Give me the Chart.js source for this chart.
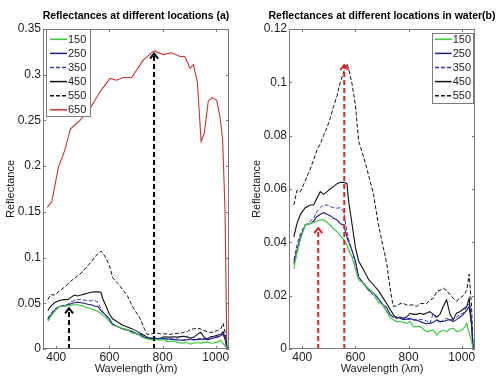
<!DOCTYPE html>
<html><head><meta charset="utf-8">
<script src="https://cdn.jsdelivr.net/npm/chart.js@4.4.1/dist/chart.umd.min.js"></script>
<style>
html,body{margin:0;padding:0;background:#fff;}
#wrap{position:relative;width:500px;height:381px;overflow:hidden;}
canvas{position:absolute;top:0;}
</style></head><body>
<div id="wrap">
<canvas id="ca" width="250" height="381" style="left:0"></canvas>
<canvas id="cb" width="250" height="381" style="left:250px"></canvas>
</div>
<script>
// ---------- data ----------
const wavelengths = [368,380,393,411,430,443,455,468,480,493,505,518,531,543,556,568,575,587,600,612,631,650,668,686,705,718,730,742,755,768,780,793,805,818,830,843,855,868,880,893,906,918,931,943,956,968,981,993,1006,1019,1028,1037,1043];
const r150 = [.030,.036,.041,.0465,.047,.0475,.048,.0484,.0484,.0475,.0465,.045,.044,.0425,.041,.039,.037,.0346,.030,.026,.0246,.0225,.021,.0175,.0165,.014,.012,.011,.0103,.0103,.010,.0096,.0103,.0084,.0084,.0084,.0075,.0065,.0068,.0071,.0053,.0065,.0071,.0065,.0075,.0078,.0065,.0068,.0075,.0096,.006,.003,0];
const r250 = [.032,.037,.042,.0465,.047,.048,.0496,.0505,.0511,.0505,.050,.049,.0484,.047,.0465,.042,.040,.037,.033,.027,.0245,.022,.021,.019,.0165,.0155,.013,.012,.012,.0115,.011,.0112,.0115,.011,.0108,.0103,.0098,.0095,.0096,.010,.0109,.0103,.0103,.0108,.011,.0103,.011,.012,.013,.0146,.016,.009,0];
const r350 = [.0334,.039,.0434,.0465,.048,.049,.0515,.053,.054,.054,.0534,.053,.0528,.053,.0515,.044,.041,.037,.032,.027,.0245,.022,.020,.018,.016,.014,.013,.012,.0115,.012,.0115,.0112,.011,.0109,.011,.011,.011,.0105,.0096,.0134,.011,.0096,.011,.0115,.011,.011,.012,.013,.0134,.0159,.017,.009,0];
const r450 = [.042,.047,.0505,.053,.054,.054,.0565,.059,.058,.059,.060,.061,.062,.0625,.0625,.062,.055,.047,.038,.033,.0296,.026,.024,.022,.019,.017,.015,.013,.0115,.012,.0115,.012,.0134,.013,.013,.0134,.013,.0135,.014,.013,.012,.013,.016,.0184,.013,.011,.0135,.014,.015,.016,.019,.010,0];
const r550 = [.054,.0595,.059,.063,.0675,.071,.0745,.077,.080,.083,.0865,.091,.095,.100,.104,.107,.105,.0995,.0915,.078,.072,.065,.058,.047,.038,.032,.023,.016,.0162,.017,.0171,.0165,.0165,.0165,.016,.017,.0171,.017,.0184,.019,.0215,.022,.0228,.022,.0203,.019,.018,.019,.020,.022,.028,.016,0];
const wavelengths650 = [366,383,408,433,452,458,489,527,564,602,627,652,684,727,768,803,834,866,884,903,916,931,945,957,972,985,1004,1016,1026,1035,1042];
const r650 = [.155,.161,.199,.218,.2396,.242,.250,.263,.281,.296,.294,.297,.297,.316,.326,.322,.324,.320,.320,.307,.311,.292,.227,.236,.271,.275,.272,.254,.229,.152,0];
const seriesLabels = ['150','250','350','450','550','650'];
const xTicks = [400,600,800,1000];
const yTicksA = [0,0.05,0.1,0.15,0.2,0.25,0.3,0.35];
const yTicksB = [0,0.02,0.04,0.06,0.08,0.1,0.12];
const arrowsA = [[448,0.0445],[768,0.323]];
const arrowsB = [[460,0.0453],[558,0.1065]];

// ---------- styles ----------
const FONT = "'Liberation Sans', Arial, sans-serif";
const styles = [
  {color:'#3ccc3c', width:1.2, dash:[]},
  {color:'#1c1c8c', width:1.1, dash:[]},
  {color:'#3535c0', width:1, dash:[4,2]},
  {color:'#111111', width:1.1, dash:[]},
  {color:'#111111', width:1, dash:[4,2]},
  {color:'#d03030', width:1.1, dash:[]}
];
const seriesA = [
  {x:wavelengths, y:r150},{x:wavelengths, y:r250},{x:wavelengths, y:r350},
  {x:wavelengths, y:r450},{x:wavelengths, y:r550},{x:wavelengths650, y:r650}
];
const seriesB = seriesA.slice(0,5);

const framePlugin = {
  id:'frame',
  afterDatasetsDraw(chart, args, o){
    const {ctx, scales:{x,y}} = chart;
    ctx.save();
    ctx.strokeStyle = o.arrowColor; ctx.lineWidth = 2; ctx.setLineDash([]);
    o.arrows.forEach(([wx,wy])=>{
      const px = x.getPixelForValue(wx), py = y.getPixelForValue(wy);
      ctx.beginPath(); ctx.moveTo(px-4,py+5); ctx.lineTo(px,py); ctx.lineTo(px+4,py+5); ctx.stroke();
    });
    ctx.restore();
  },
  afterDraw(chart, args, o){
    const {ctx, chartArea:a, scales:{x,y}} = chart;
    ctx.save();
    ctx.setLineDash([]);
    ctx.strokeStyle = '#7a7a7a'; ctx.lineWidth = 1;
    ctx.strokeRect(Math.round(a.left)+0.5, Math.round(a.top)+0.5, Math.round(a.width)-1, Math.round(a.height)-1);
    ctx.beginPath();
    xTicks.forEach(v=>{
      const p = Math.round(x.getPixelForValue(v))+0.5;
      ctx.moveTo(p,a.bottom); ctx.lineTo(p,a.bottom-3);
      ctx.moveTo(p,a.top); ctx.lineTo(p,a.top+3);
    });
    o.yTicks.forEach(v=>{
      const p = Math.round(y.getPixelForValue(v))+0.5;
      ctx.moveTo(a.left,p); ctx.lineTo(a.left+3,p);
      ctx.moveTo(a.right,p); ctx.lineTo(a.right-3,p);
    });
    ctx.stroke();
    // title
    ctx.fillStyle = '#000';
    ctx.font = "bold 10.5px " + FONT;
    ctx.textAlign = 'center'; ctx.textBaseline = 'middle';
    ctx.fillText(o.title, (a.left+a.right)/2, 16.5);
    // legend
    const L = o.legend;
    const bx = L.right ? a.right - L.dx - L.w : a.left + L.dx;
    const by = a.top + L.dy;
    ctx.fillStyle = '#fff';
    ctx.fillRect(bx, by, L.w, L.h);
    ctx.strokeStyle = '#7a7a7a';
    ctx.strokeRect(Math.round(bx)+0.5, Math.round(by)+0.5, L.w, L.h);
    ctx.font = "11px " + FONT;
    ctx.textAlign = 'left';
    o.series.forEach((s,i)=>{
      const st = styles[i];
      const ry = by + L.first + i*14.1;
      ctx.strokeStyle = st.color; ctx.lineWidth = st.width + 0.4; ctx.setLineDash(st.dash);
      ctx.beginPath(); ctx.moveTo(bx+L.l0, ry); ctx.lineTo(bx+L.l1, ry); ctx.stroke();
      ctx.fillStyle = '#222';
      ctx.fillText(seriesLabels[i], bx+L.l1+1, ry+0.5);
    });
    ctx.restore();
  }
};

function makeChart(id, series, yMax, yTicks, arrows, arrowColor, axisW, padRight, yTitlePad, title, legend){
  const datasets = [];
  arrows.forEach(([wx,wy])=>datasets.push({
    data:[{x:wx,y:0},{x:wx,y:wy}], borderColor:arrowColor, borderWidth:2,
    borderDash:[5,3], pointRadius:0, tension:0
  }));
  series.forEach((s,i)=>datasets.push({
    label:seriesLabels[i], data:s.x.map((v,k)=>({x:v,y:s.y[k]})),
    borderColor:styles[i].color, borderWidth:styles[i].width, borderDash:styles[i].dash,
    pointRadius:0, tension:0, fill:false
  }));
  return new Chart(document.getElementById(id), {
    type:'line',
    data:{datasets},
    options:{
      responsive:false, animation:false, events:[],
      layout:{padding:{left:0,right:padRight,top:29,bottom:0}},
      plugins:{legend:{display:false}, tooltip:{enabled:false},
        frame:{arrows, arrowColor, yTicks, title, legend, series}},
      scales:{
        x:{type:'linear', min:350, max:1050,
          afterBuildTicks:s=>{s.ticks = xTicks.map(v=>({value:v}));},
          afterFit:s=>{s.height = 32;},
          grid:{display:false, drawTicks:false}, border:{display:false},
          ticks:{padding:1, color:'#222', font:{size:12, family:FONT}, maxRotation:0, autoSkip:false, callback:v=>String(v)},
          title:{display:true, text:'Wavelength (\u03bbm)', color:'#222', font:{size:11, family:FONT}, padding:{top:0,bottom:5.4}}
        },
        y:{type:'linear', min:0, max:yMax,
          afterBuildTicks:s=>{s.ticks = yTicks.map(v=>({value:v}));},
          afterFit:s=>{s.width = axisW;},
          grid:{display:false, drawTicks:false}, border:{display:false},
          ticks:{padding:2, color:'#222', font:{size:12, family:FONT}, autoSkip:false, callback:v=>String(v)},
          title:{display:true, text:'Reflectance', color:'#222', font:{size:11, family:FONT}, padding:{top:yTitlePad,bottom:0}}
        }
      }
    },
    plugins:[framePlugin]
  });
}

makeChart('ca', seriesA, 0.35, yTicksA, arrowsA, '#000000', 43, 21, 4.4,
  'Reflectances at different locations (a)',
  {right:false, dx:3, dy:0.3, w:44, h:87, first:10, l0:4, l1:21});
makeChart('cb', seriesB, 0.12, yTicksB, arrowsB, '#e02020', 39, 25, 0.4,
  'Reflectances at different locations in water(b)',
  {right:true, dx:2.3, dy:4.3, w:41, h:70, first:6, l0:3.3, l1:20});
</script>
</body></html>
